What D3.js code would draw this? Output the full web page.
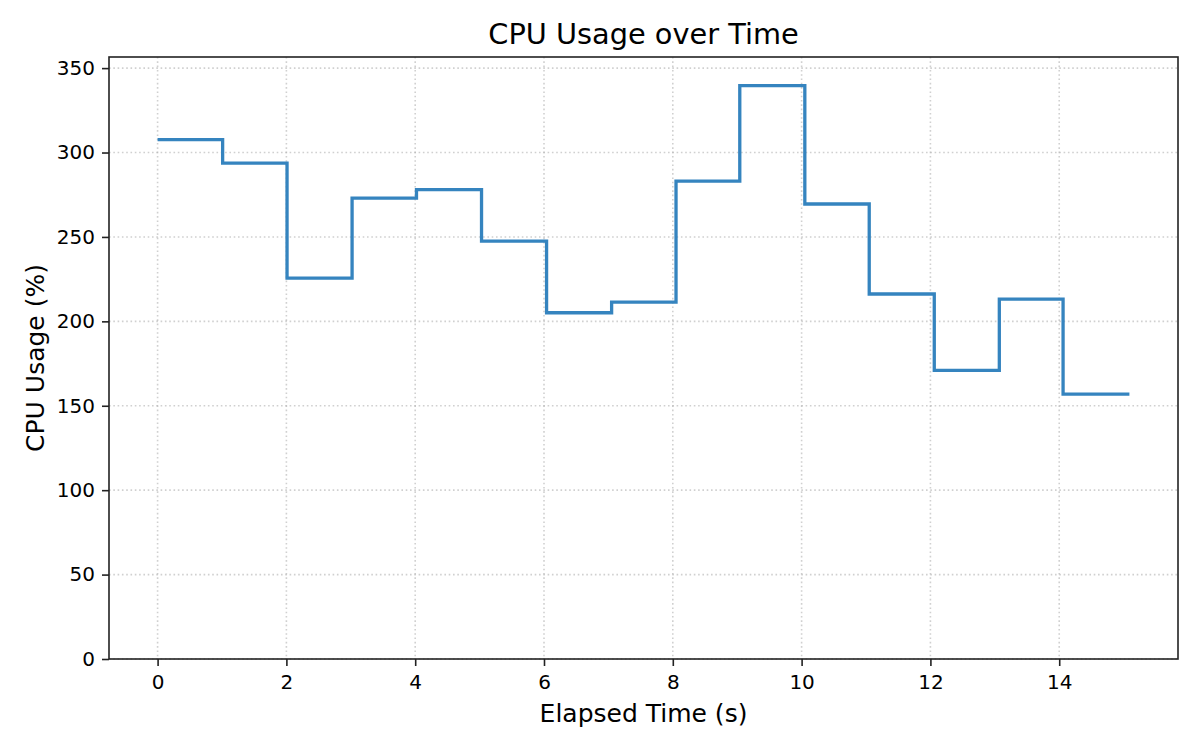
<!DOCTYPE html>
<html>
<head>
<meta charset="utf-8">
<script src="https://cdn.jsdelivr.net/npm/d3@7"></script>
<style>
  body { margin: 0; background: #fff; }
  svg { font-family: "DejaVu Sans", sans-serif; }
</style>
</head>
<body>
<svg id="chart" width="1200" height="750"></svg>
<script>
// elapsed time (s) and cpu usage (%) samples
const times = [0, 1.01, 2.01, 3.02, 4.02, 5.03, 6.04, 7.05, 8.05, 9.04, 10.05, 11.05, 12.06, 13.07, 14.06, 15.09];
const usage = [307.6, 293.7, 225.6, 273.0, 278.0, 247.5, 205.1, 211.4, 283.1, 339.6, 269.5, 216.2, 171.0, 213.2, 156.9, 156.9];
const xTicks = [0, 2, 4, 6, 8, 10, 12, 14];
const yTicks = [0, 50, 100, 150, 200, 250, 300, 350];

const data = times.map((t, i) => ({ t: t, v: usage[i] }));

const svg = d3.select("#chart");
const plotL = 109, plotR = 1178, plotT = 57, plotB = 659;

// matplotlib style 5% margins on x, y from 0 to max*1.05
const tMin = d3.min(times), tMax = d3.max(times);
const pad = (tMax - tMin) * 0.05;
const x = d3.scaleLinear().domain([tMin - pad, tMax + pad]).range([plotL, plotR]);
const y = d3.scaleLinear().domain([0, d3.max(usage) * 1.05]).range([plotB, plotT]);

// grid
const grid = svg.append("g")
  .attr("stroke", "#b0b0b0")
  .attr("stroke-opacity", 0.6)
  .attr("stroke-width", 1.6)
  .attr("stroke-dasharray", "1.6,2.7");
grid.selectAll("line.gx")
  .data(xTicks)
  .join("line")
  .attr("class", "gx")
  .attr("x1", d => x(d)).attr("x2", d => x(d))
  .attr("y1", plotT).attr("y2", plotB);
grid.selectAll("line.gy")
  .data(yTicks)
  .join("line")
  .attr("class", "gy")
  .attr("x1", plotL).attr("x2", plotR)
  .attr("y1", d => y(d)).attr("y2", d => y(d));

// step line
const line = d3.line()
  .x(d => x(d.t))
  .y(d => y(d.v))
  .curve(d3.curveStepAfter);

svg.append("path")
  .datum(data)
  .attr("d", line)
  .attr("fill", "none")
  .attr("stroke", "#3584bf")
  .attr("stroke-width", 3.3);

// axes
const xAxis = svg.append("g")
  .attr("transform", `translate(0,${plotB})`)
  .call(d3.axisBottom(x).tickValues(xTicks).tickSize(7).tickPadding(8.5).tickSizeOuter(0));
const yAxis = svg.append("g")
  .attr("transform", `translate(${plotL},0)`)
  .call(d3.axisLeft(y).tickValues(yTicks).tickSize(7).tickPadding(7).tickSizeOuter(0));

[xAxis, yAxis].forEach(g => {
  g.select(".domain").remove();
  g.selectAll(".tick line").attr("stroke", "#222").attr("stroke-width", 1.6);
  g.selectAll(".tick text")
    .attr("fill", "#000")
    .style("font-size", "20px")
    .style("font-family", "DejaVu Sans, sans-serif");
});

// frame
svg.append("rect")
  .attr("x", plotL).attr("y", plotT)
  .attr("width", plotR - plotL).attr("height", plotB - plotT)
  .attr("fill", "none")
  .attr("stroke", "#222")
  .attr("stroke-width", 1.6);

// texts
svg.append("text")
  .attr("x", (plotL + plotR) / 2).attr("y", 44)
  .attr("text-anchor", "middle")
  .style("font-size", "28.8px")
  .text("CPU Usage over Time");

svg.append("text")
  .attr("x", (plotL + plotR) / 2).attr("y", 721.5)
  .attr("text-anchor", "middle")
  .style("font-size", "25px")
  .text("Elapsed Time (s)");

svg.append("text")
  .attr("transform", `translate(43.5,${(plotT + plotB) / 2}) rotate(-90)`)
  .attr("text-anchor", "middle")
  .style("font-size", "25px")
  .text("CPU Usage (%)");
</script>
</body>
</html>
